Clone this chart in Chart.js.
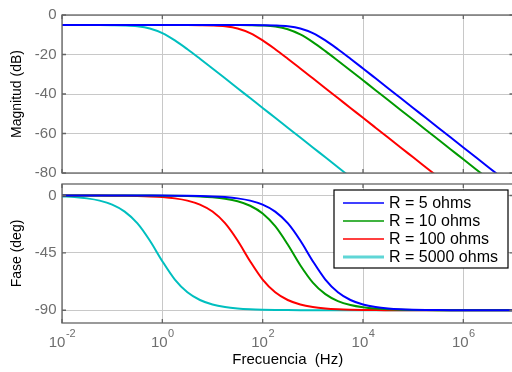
<!DOCTYPE html>
<html><head><meta charset="utf-8">
<script src="https://cdn.jsdelivr.net/npm/chart.js@4.4.1/dist/chart.umd.min.js"></script>
<style>
html,body{margin:0;padding:0;background:#fff;overflow:hidden;width:512px;height:372px;}
canvas{position:absolute;left:0;top:0;}
</style></head><body>
<canvas id="mag" width="516" height="372"></canvas>
<canvas id="phase" width="516" height="372"></canvas>
<script>
const freqs = [0.01, 0.01778, 0.03162, 0.05623, 0.1, 0.1778, 0.3162, 0.5623, 1, 1.778, 3.162, 5.623, 10, 17.78, 31.62, 56.23, 100, 177.8, 316.2, 562.3, 1000, 1778, 3162, 5623, 10000, 17783, 31623, 56234, 100000, 177828, 316228, 562341, 1000000, 1778279, 3162278, 5623413, 10000000];

const seriesLabels = ['R = 5 ohms', 'R = 10 ohms', 'R = 100 ohms', 'R = 5000 ohms'];

const magR5 = [-5.06,-5.06,-5.06,-5.06,-5.06,-5.06,-5.06,-5.06,-5.06,-5.06,-5.06,-5.06,-5.06,-5.06,-5.07,-5.08,-5.13,-5.27,-5.70,-6.82,-9.19,-12.85,-17.33,-22.15,-27.09,-32.07,-37.06,-42.06,-47.06,-52.06,-57.06,-62.06,-67.06,-72.06,-77.06,-82.06,-87.06];
const magR10 = [-5.06,-5.06,-5.06,-5.06,-5.06,-5.06,-5.06,-5.06,-5.06,-5.06,-5.06,-5.06,-5.06,-5.07,-5.09,-5.15,-5.33,-5.85,-7.18,-9.82,-13.70,-18.27,-23.13,-28.08,-33.07,-38.06,-43.06,-48.06,-53.06,-58.06,-63.06,-68.06,-73.06,-78.06,-83.06,-88.06,-93.06];
const magR100 = [-5.06,-5.06,-5.06,-5.06,-5.06,-5.06,-5.06,-5.06,-5.06,-5.07,-5.08,-5.13,-5.27,-5.70,-6.82,-9.19,-12.85,-17.33,-22.15,-27.09,-32.07,-37.06,-42.06,-47.06,-52.06,-57.06,-62.06,-67.06,-72.06,-77.06,-82.06,-87.06,-92.06,-97.06,-102.06,-107.06,-112.06];
const magR5000 = [-5.06,-5.06,-5.07,-5.08,-5.13,-5.27,-5.70,-6.82,-9.19,-12.85,-17.33,-22.15,-27.09,-32.07,-37.06,-42.06,-47.06,-52.06,-57.06,-62.06,-67.06,-72.06,-77.06,-82.06,-87.06,null,null,null,null,null,null,null,null,null,null,null,null];

const phaseR5 = [0,0,0,0,0,0,0,-0.04,-0.07,-0.13,-0.23,-0.41,-0.72,-1.28,-2.28,-4.05,-7.18,-12.62,-21.70,-35.30,-51.54,-65.93,-75.90,-81.96,-85.46,-87.44,-88.56,-89.19,-89.54,-89.74,-89.86,-89.92,-89.95,-89.97,-89.99,-89.99,-90];
const phaseR10 = [0,0,0,0,-0.01,-0.03,-0.05,-0.08,-0.14,-0.26,-0.46,-0.81,-1.44,-2.56,-4.54,-8.04,-14.10,-24.07,-38.46,-54.70,-68.29,-77.38,-82.82,-85.95,-87.72,-88.72,-89.28,-89.60,-89.77,-89.87,-89.93,-89.96,-89.98,-89.99,-89.99,-90,-90];
const phaseR100 = [-0.01,-0.02,-0.04,-0.07,-0.13,-0.23,-0.41,-0.72,-1.28,-2.28,-4.05,-7.18,-12.62,-21.70,-35.30,-51.54,-65.93,-75.90,-81.96,-85.46,-87.44,-88.56,-89.19,-89.54,-89.74,-89.86,-89.92,-89.95,-89.97,-89.99,-89.99,-90,-90,-90,-90,-90,-90];
const phaseR5000 = [-0.72,-1.28,-2.28,-4.05,-7.18,-12.62,-21.70,-35.30,-51.54,-65.93,-75.90,-81.96,-85.46,-87.44,-88.56,-89.19,-89.54,-89.74,-89.86,-89.92,-89.95,-89.97,-89.99,-89.99,-90,-90,-90,-90,-90,-90,-90,-90,-90,-90,-90,-90,-90];

const magTicks = [-80, -60, -40, -20, 0];
const phaseTicks = [-90, -45, 0];
const xTickValues = [0.01, 1, 100, 10000, 1000000];
const xTickExponents = ['-2', '0', '2', '4', '6'];

const colors = ['#0000ff', '#009a00', '#ff0000', '#00bfbf'];
const FONT = "'Liberation Sans', Arial, Helvetica, sans-serif";

function pts(ys) { return freqs.map((f, i) => ({ x: f, y: ys[i] })); }
function datasets(list) {
  return list.map((ys, i) => ({
    label: seriesLabels[i], data: pts(ys), borderColor: colors[i], backgroundColor: colors[i],
    borderWidth: 2, pointRadius: 0, fill: false, cubicInterpolationMode: 'monotone'
  }));
}

const boxPlugin = {
  id: 'box',
  afterDraw(chart) {
    const ctx = chart.ctx, a = chart.chartArea;
    const xs = chart.scales.x, ys = chart.scales.y;
    ctx.save();
    ctx.strokeStyle = '#646464';
    ctx.lineWidth = 1.3;
    ctx.beginPath();
    xs.ticks.forEach(t => {
      const px = xs.getPixelForValue(t.value);
      ctx.moveTo(px, a.top); ctx.lineTo(px, a.top + 4);
      ctx.moveTo(px, a.bottom); ctx.lineTo(px, a.bottom - 4);
    });
    ys.ticks.forEach(t => {
      const py = ys.getPixelForValue(t.value);
      ctx.moveTo(a.left, py); ctx.lineTo(a.left + 4, py);
      ctx.moveTo(a.right, py); ctx.lineTo(a.right - 4, py);
    });
    ctx.stroke();
    ctx.strokeRect(a.left, a.top, a.right - a.left, a.bottom - a.top);
    ctx.restore();
  }
};

const xLabelPlugin = {
  id: 'xlabels',
  afterDraw(chart) {
    const ctx = chart.ctx, xs = chart.scales.x, a = chart.chartArea;
    ctx.save();
    ctx.fillStyle = '#6e6e6e';
    ctx.textBaseline = 'alphabetic';
    ctx.textAlign = 'left';
    xTickValues.forEach((v, i) => {
      const px = xs.getPixelForValue(v);
      ctx.font = '15px ' + FONT;
      const w1 = ctx.measureText('10').width;
      ctx.font = '11px ' + FONT;
      const w2 = ctx.measureText(xTickExponents[i]).width;
      const x0 = px - (w1 + w2) / 2;
      ctx.font = '15px ' + FONT;
      ctx.fillText('10', x0, a.bottom + 24);
      ctx.font = '11px ' + FONT;
      ctx.fillText(xTickExponents[i], x0 + w1 + 0.5, a.bottom + 14);
    });
    ctx.restore();
  }
};

const legendPlugin = {
  id: 'boxlegend',
  afterDraw(chart) {
    const ctx = chart.ctx;
    const bx = 334, by = 190, bw = 174, bh = 78;
    ctx.save();
    ctx.fillStyle = '#fff';
    ctx.fillRect(bx, by, bw, bh);
    ctx.strokeStyle = '#000';
    ctx.lineWidth = 1.2;
    ctx.strokeRect(bx, by, bw, bh);
    ctx.font = '16px ' + FONT;
    ctx.textBaseline = 'middle';
    ctx.textAlign = 'left';
    chart.data.datasets.forEach((d, i) => {
      const y = by + 13 + i * 18;
      ctx.beginPath();
      ctx.strokeStyle = i === 3 ? '#5fd6d6' : d.borderColor;
      ctx.lineWidth = i === 3 ? 3 : 1.5;
      ctx.moveTo(343, y); ctx.lineTo(384, y);
      ctx.stroke();
      ctx.fillStyle = '#000';
      ctx.fillText(d.label, 389, y + 1);
    });
    ctx.restore();
  }
};

function makeChart(id, dsList, yMin, yMax, yTicks, yTitle, padTop, padBottom, xHeight, withXTitle, extraPlugins) {
  return new Chart(document.getElementById(id), {
    type: 'line',
    data: { datasets: datasets(dsList) },
    options: {
      responsive: false, animation: false, events: [],
      layout: { padding: { left: 0, right: 2.5, top: padTop, bottom: padBottom } },
      plugins: { legend: { display: false }, tooltip: { enabled: false } },
      scales: {
        x: {
          type: 'logarithmic', min: 0.01, max: 1e7,
          afterBuildTicks: s => { s.ticks = xTickValues.map(v => ({ value: v })); },
          afterFit: s => { s.height = xHeight; },
          ticks: { display: false },
          grid: { color: '#c8c8c8', lineWidth: 1, drawTicks: false },
          border: { display: false },
          title: { display: withXTitle, text: 'Frecuencia  (Hz)', color: '#000', font: { size: 15, family: FONT }, padding: { bottom: 3, top: 0 } }
        },
        y: {
          min: yMin, max: yMax,
          afterBuildTicks: s => { s.ticks = yTicks.map(v => ({ value: v })); },
          afterFit: s => { s.width = 62; },
          ticks: { color: '#6e6e6e', font: { size: 15, family: FONT }, padding: 5.5 },
          grid: { color: '#c8c8c8', lineWidth: 1, drawTicks: false },
          border: { display: false },
          title: { display: true, text: yTitle, color: '#000', font: { size: 14, family: FONT }, padding: { top: 9, bottom: 0 } }
        }
      }
    },
    plugins: [boxPlugin].concat(extraPlugins)
  });
}

makeChart('mag', [magR5, magR10, magR100, magR5000], -80, 0, magTicks, 'Magnitud (dB)', 15, 199, 0, false, []);
makeChart('phase', [phaseR5, phaseR10, phaseR100, phaseR5000], -100, 9, phaseTicks, 'Fase (deg)', 184, 0, 49, true, [xLabelPlugin, legendPlugin]);
</script>
</body></html>
